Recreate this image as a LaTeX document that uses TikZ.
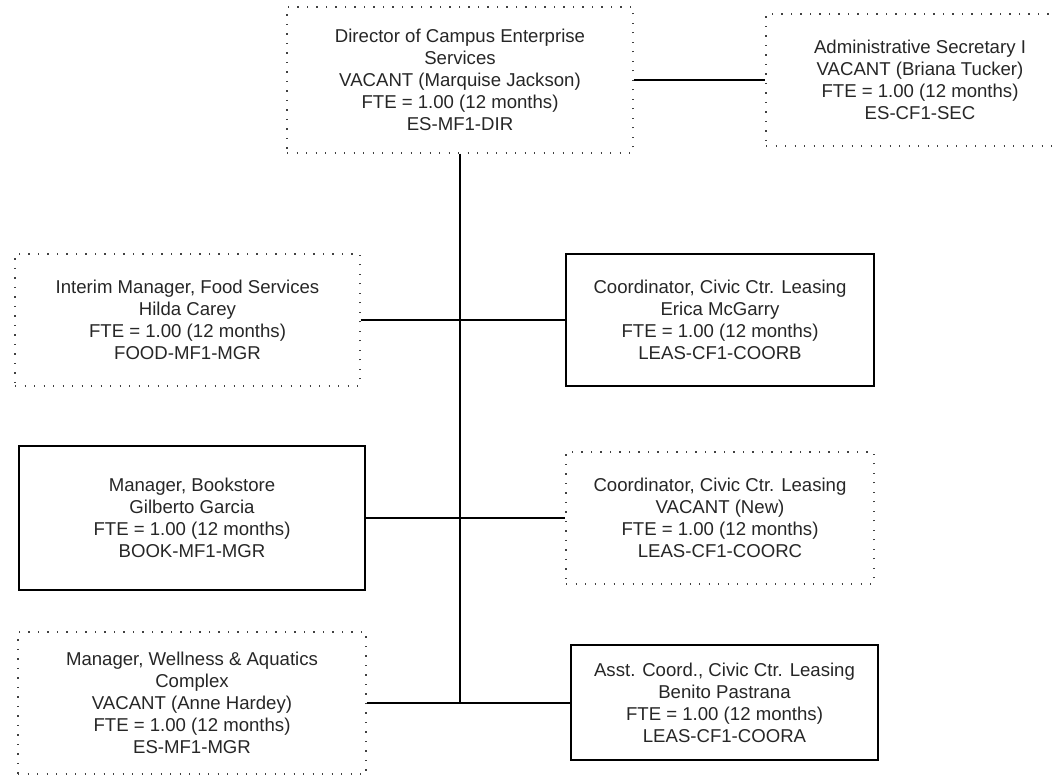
\documentclass[tikz,border=0pt]{standalone}
\usepackage{fontspec}
\setmainfont{Liberation Sans}
\begin{document}
\begin{tikzpicture}[x=0.5pt,y=-0.5pt,
  every node/.style={font=\fontsize{9.3}{11}\selectfont, align=center, inner sep=0pt, text=black!85},
  dotbox/.style={draw=black!75, line width=0.6pt, dash pattern=on 0.6pt off 4.15pt, rectangle},
  solidbox/.style={draw=black, line width=1pt, rectangle},
  link/.style={draw=black, line width=1pt}]
\useasboundingbox (0,0) rectangle (1057,775);

\node[dotbox, minimum width=173pt, minimum height=73pt] (dir) at (460,80)
  {Director of Campus Enterprise\\Services\\VACANT (Marquise Jackson)\\FTE = 1.00 (12 months)\\ES-MF1-DIR};
\node[dotbox, minimum width=154pt, minimum height=66pt] (adm) at (920,80)
  {Administrative Secretary I\\VACANT (Briana Tucker)\\FTE = 1.00 (12 months)\\ES-CF1-SEC};
\node[dotbox, minimum width=172.5pt, minimum height=66pt] (food) at (187.5,320)
  {Interim Manager, Food Services\\Hilda Carey\\FTE = 1.00 (12 months)\\FOOD-MF1-MGR};
\node[solidbox, minimum width=154pt, minimum height=66pt] (erica) at (720,320)
  {Coordinator, Civic Ctr. Leasing\\Erica McGarry\\FTE = 1.00 (12 months)\\LEAS-CF1-COORB};
\node[solidbox, minimum width=173pt, minimum height=72pt] (book) at (192,518)
  {Manager, Bookstore\\Gilberto Garcia\\FTE = 1.00 (12 months)\\BOOK-MF1-MGR};
\node[dotbox, minimum width=154pt, minimum height=66pt] (coorc) at (720,518)
  {Coordinator, Civic Ctr. Leasing\\VACANT (New)\\FTE = 1.00 (12 months)\\LEAS-CF1-COORC};
\node[dotbox, minimum width=174pt, minimum height=71pt] (well) at (192,703)
  {Manager, Wellness \& Aquatics\\Complex\\VACANT (Anne Hardey)\\FTE = 1.00 (12 months)\\ES-MF1-MGR};
\node[solidbox, minimum width=153.5pt, minimum height=57.5pt] (asst) at (724.5,703)
  {Asst. Coord., Civic Ctr. Leasing\\Benito Pastrana\\FTE = 1.00 (12 months)\\LEAS-CF1-COORA};

\coordinate (trunkend) at (dir.south |- well.east);
\draw[link] (dir.south) -- (trunkend);
\draw[link] (dir.east) -- (adm.west);
\draw[link] (food.east) -- (erica.west);
\draw[link] (book.east) -- (coorc.west);
\draw[link] (well.east) -- (asst.west);
\end{tikzpicture}
\end{document}
